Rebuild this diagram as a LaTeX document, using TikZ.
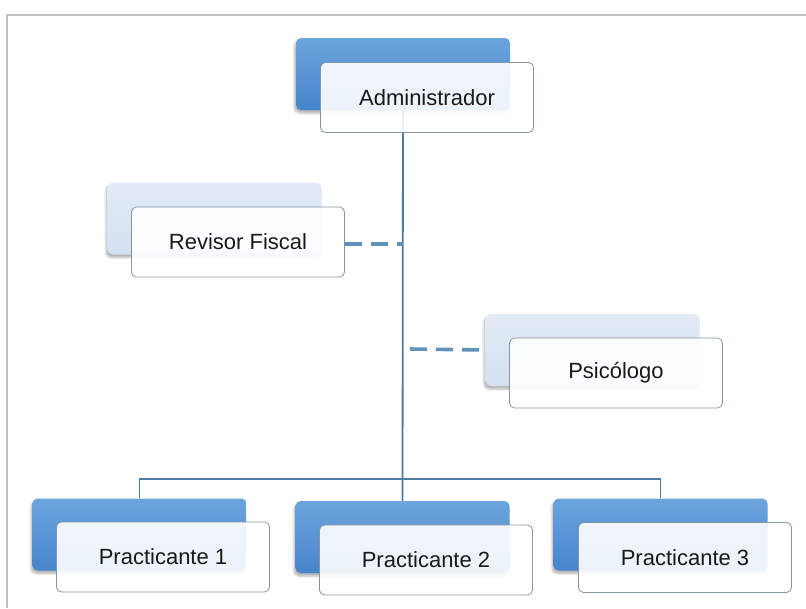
\documentclass[tikz,border=0pt]{standalone}
\usepackage{fontspec}
\setmainfont{Liberation Sans}
\usetikzlibrary{shadows.blur}
\pgfdeclarelayer{background}
\pgfsetlayers{background,main}
\definecolor{darkA}{RGB}{108,165,222}
\definecolor{darkB}{RGB}{70,132,204}
\definecolor{lightA}{RGB}{226,234,245}
\definecolor{lightB}{RGB}{212,224,240}
\definecolor{treeline}{RGB}{79,122,155}
\definecolor{dashline}{RGB}{96,146,186}
\definecolor{frontedge}{RGB}{130,150,168}
\definecolor{frame}{RGB}{192,192,192}
\tikzset{
  backbase/.style={rectangle, rounded corners=5pt, minimum width=214pt, minimum height=72pt, draw=none,
    blur shadow={shadow xshift=-1.5pt, shadow yshift=-3pt, shadow blur steps=6, shadow opacity=30}},
  backdark/.style={backbase, top color=darkA, bottom color=darkB},
  backlight/.style={backbase, top color=lightA, bottom color=lightB},
  frontbox/.style={rectangle, rounded corners=5pt, minimum width=213pt, minimum height=70pt,
    draw=frontedge, line width=0.8pt, fill=white, fill opacity=0.9, text opacity=1,
    font=\fontsize{22}{26}\selectfont, text=black!90},
  tree/.style={draw=treeline, line width=1.8pt},
  dashlink/.style={draw=dashline, line width=3.6pt, dash pattern=on 17pt off 9pt}
}
\begin{document}
\begin{tikzpicture}[x=1pt,y=-1pt]
\useasboundingbox (0,0) rectangle (806,608);
\draw[frame, line width=1.5pt] (7,608) -- (7,15) -- (806,15);

% back boxes
\node[backdark]  (admB) at (403,74) {};
\node[backlight] (revB) at (214.5,218.5) {};
\node[backlight] (psiB) at (592.5,350) {};
\node[backdark]  (p1B)  at (139.5,534.5) {};
\node[backdark]  (p2B)  at (402.5,537) {};
\node[backdark]  (p3B)  at (660.5,534.5) {};

% front boxes
\node[frontbox] (admF) at (427,97.5) {Administrador};
\node[frontbox] (revF) at (238,242) {Revisor Fiscal};
\node[frontbox] (psiF) at (616,373) {Psicólogo};
\node[frontbox] (p1F)  at (163,557) {Practicante 1};
\node[frontbox] (p2F)  at (426,560) {Practicante 2};
\node[frontbox] (p3F)  at (685,557.5) {Practicante 3};

\coordinate (psiDash) at (410,349);

\begin{pgfonlayer}{background}
\draw[tree] (admB.south) -- (p2B.north);
\draw[tree] (p1B.north) -- ++(0,-19.5) -| (p3B.north);
\draw[dashlink] (revF.east |- 0,244) -- (admB.south |- 0,244);
\draw[dashlink] (psiDash) -- (psiB.west);
\end{pgfonlayer}
\end{tikzpicture}
\end{document}
